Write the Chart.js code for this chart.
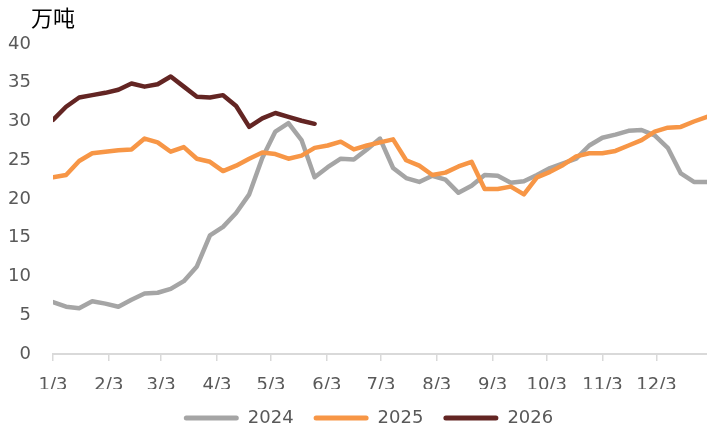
<!DOCTYPE html>
<html>
<head>
<meta charset="utf-8">
<script src="https://cdn.jsdelivr.net/npm/chart.js@4.4.0/dist/chart.umd.min.js"></script>
<style>
html,body{margin:0;padding:0;background:#fff;}
canvas{display:block;}
</style>
</head>
<body>
<canvas id="c" width="707" height="429"></canvas>
<script>
// ---- data ----
const unitLabel = '万吨';
const monthLabels = ['1/3','2/3','3/3','4/3','5/3','6/3','7/3','8/3','9/3','10/3','11/3','12/3'];
const monthDayOffsets = [0,31,60,91,121,152,182,213,244,274,305,335]; // days after 1/3
const axisSpanDays = 363; // 1/3 .. 12/31
const seriesNames = ['2024','2025','2026'];
const values2024 = [6.7,6.1,5.9,6.8,6.5,6.1,7.0,7.8,7.9,8.4,9.4,11.3,15.3,16.4,18.2,20.6,25.3,28.7,29.8,27.6,22.8,24.1,25.2,25.1,26.4,27.8,24.0,22.7,22.2,23.0,22.5,20.8,21.7,23.1,23.0,22.1,22.3,23.1,24.0,24.6,25.2,26.9,27.9,28.3,28.8,28.9,28.2,26.6,23.3,22.2,22.2];
const values2025 = [22.8,23.1,24.9,25.9,26.1,26.3,26.4,27.8,27.3,26.1,26.7,25.2,24.8,23.6,24.3,25.2,26.0,25.8,25.2,25.6,26.6,26.9,27.4,26.4,26.9,27.3,27.7,25.0,24.3,23.1,23.4,24.2,24.8,21.3,21.3,21.6,20.6,22.8,23.5,24.4,25.5,25.9,25.9,26.2,26.9,27.6,28.7,29.2,29.3,30.0,30.6];
const values2026 = [30.2,31.9,33.1,33.4,33.7,34.1,34.9,34.5,34.8,35.8,34.5,33.2,33.1,33.4,32.0,29.3,30.4,31.1,30.6,30.1,29.7];
const seriesColors = ['#A5A5A5','#F79646','#632523'];

// ---- build ----
const lastIndex = values2024.length - 1;
const xTickValues = monthDayOffsets.map(d => d * lastIndex / axisSpanDays);
const toPoints = arr => arr.map((v, i) => ({x: i, y: v}));
const allValues = [values2024, values2025, values2026];

const unitPlugin = {
  id: 'unitText',
  afterLayout(chart) {
    // centre the legend under the plot rather than the whole canvas
    if (chart.legend) { chart.legend.left += 15; chart.legend.right += 15; }
  },
  afterDraw(chart) {
    const ctx = chart.ctx;
    ctx.save();
    ctx.font = '22px "Noto Sans CJK SC"';
    ctx.fillStyle = '#000000';
    ctx.textBaseline = 'middle';
    ctx.textAlign = 'left';
    ctx.fillText(unitLabel, 31, 18);
    ctx.restore();
  }
};

Chart.defaults.font.family = '"DejaVu Sans"';
Chart.defaults.font.size = 18;

new Chart(document.getElementById('c').getContext('2d'), {
  type: 'line',
  data: {
    datasets: allValues.map((vals, i) => ({
      label: seriesNames[i],
      data: toPoints(vals),
      borderColor: seriesColors[i],
      backgroundColor: seriesColors[i],
      order: 3 - i
    }))
  },
  options: {
    responsive: false,
    animation: false,
    events: [],
    layout: {padding: {left: 0, right: 0, top: 44, bottom: -8}},
    elements: {
      line: {borderWidth: 4.5, tension: 0, borderJoinStyle: 'round', borderCapStyle: 'round'},
      point: {radius: 0}
    },
    scales: {
      x: {
        type: 'linear',
        min: 0,
        max: lastIndex,
        afterBuildTicks: s => { s.ticks = xTickValues.map(v => ({value: v})); },
        afterFit: s => { s.height = 35; },
        ticks: {
          autoSkip: false, maxRotation: 0, minRotation: 0,
          color: '#595959', font: {size: 18}, padding: 14,
          callback: (v, i) => monthLabels[i]
        },
        grid: {display: true, drawOnChartArea: false, drawTicks: true, tickLength: 7, color: '#D9D9D9', lineWidth: 1.5},
        border: {display: true, color: '#D9D9D9', width: 2}
      },
      y: {
        min: 0, max: 40,
        afterFit: s => { s.width = 53; },
        ticks: {stepSize: 5, color: '#595959', font: {size: 18}, padding: 22},
        grid: {display: false, drawTicks: false},
        border: {display: false}
      }
    },
    plugins: {
      tooltip: {enabled: false},
      legend: {
        position: 'bottom',
        labels: {
          boxWidth: 55, boxHeight: 5, useBorderRadius: true, borderRadius: 2.5,
          padding: 20, color: '#595959', font: {size: 18},
          sort: (a, b) => a.datasetIndex - b.datasetIndex,
          generateLabels: chart => Chart.defaults.plugins.legend.labels.generateLabels(chart)
            .map(l => Object.assign({}, l, {fillStyle: l.strokeStyle, lineWidth: 0}))
        }
      }
    }
  },
  plugins: [unitPlugin]
});
</script>
</body>
</html>
